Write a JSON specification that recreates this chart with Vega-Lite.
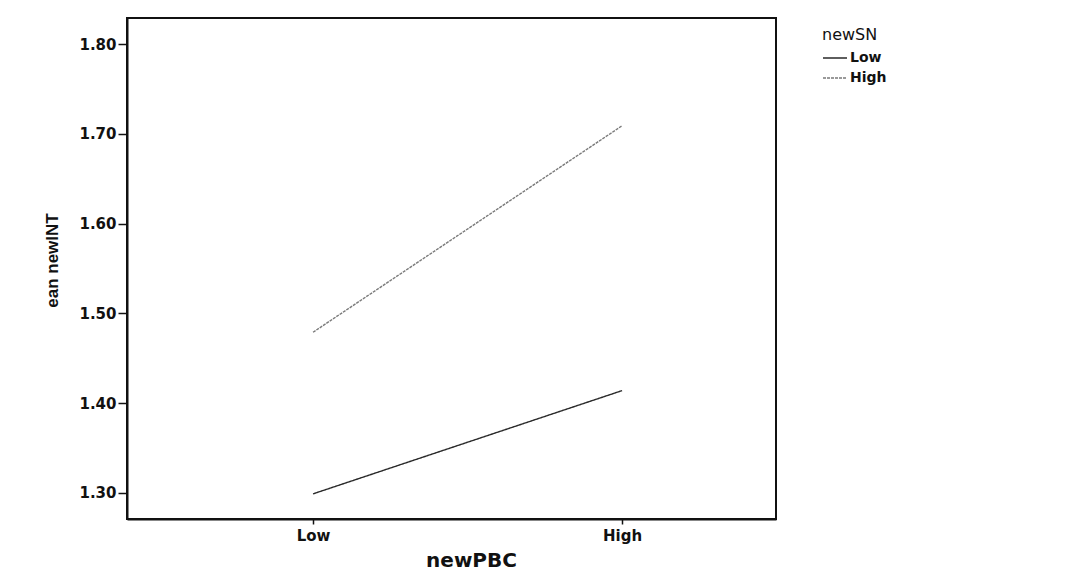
{
  "$schema": "https://vega.github.io/schema/vega-lite/v6.json",
  "autosize": {"type": "none"},
  "padding": {"left": 127, "top": 18, "right": 301, "bottom": 66},
  "width": 649,
  "height": 501,
  "background": "white",
  "config": {
    "view": {"stroke": "#111", "strokeWidth": 2},
    "font": "DejaVu Sans",
    "axis": {"grid": false, "domainColor": "#111", "domainWidth": 2, "tickColor": "#111", "tickWidth": 1.5, "labelColor": "#111", "titleColor": "#111", "labelFont": "DejaVu Sans", "titleFont": "DejaVu Sans"}
  },
  "data": {
    "values": [
      {"newPBC": 0, "newSN": "Low", "mean": 1.299},
      {"newPBC": 1, "newSN": "Low", "mean": 1.414},
      {"newPBC": 0, "newSN": "High", "mean": 1.479},
      {"newPBC": 1, "newSN": "High", "mean": 1.709}
    ]
  },
  "mark": {"type": "line", "clip": true},
  "encoding": {
    "x": {
      "field": "newPBC", "type": "quantitative",
      "scale": {"domain": [-0.602, 1.498], "nice": false, "zero": false},
      "axis": {"values": [0, 1], "labelExpr": "datum.value == 0 ? 'Low' : 'High'", "tickSize": 5, "labelFontSize": 15, "labelFontWeight": "bold", "labelPadding": 4,
        "title": "newPBC", "titleFontSize": 20, "titleFontWeight": "bold", "titleX": 344, "titleY": 41, "titleBaseline": "middle", "titleAnchor": "middle", "titleAlign": "center"}
    },
    "y": {
      "field": "mean", "type": "quantitative",
      "scale": {"domain": [1.271, 1.829], "nice": false, "zero": false},
      "axis": {"values": [1.3, 1.4, 1.5, 1.6, 1.7, 1.8], "format": ".2f", "tickSize": 9, "labelFontSize": 15, "labelFontWeight": "bold", "labelPadding": 2,
        "title": "ean newINT", "titleFont": "Liberation Sans", "titleFontSize": 17, "titleFontWeight": "bold", "titleX": -75, "titleY": 242, "titleAngle": -90, "titleAlign": "center", "titleBaseline": "middle"}
    },
    "color": {
      "field": "newSN", "type": "nominal",
      "scale": {"domain": ["Low", "High"], "range": ["#2a2a2a", "#7a7a7a"]},
      "legend": {"orient": "none", "legendX": 695, "legendY": 9, "title": "newSN", "titleFont": "DejaVu Sans", "titleFontSize": 16, "titleFontWeight": "normal", "titleColor": "#111", "titlePadding": 2,
        "labelFont": "DejaVu Sans", "labelFontSize": 14, "labelFontWeight": "bold", "labelColor": "#111", "symbolType": "stroke", "symbolSize": 576, "symbolStrokeWidth": 1.6, "labelOffset": 2, "rowPadding": -9, "symbolOffset": 0}
    },
    "strokeDash": {
      "field": "newSN", "type": "nominal",
      "scale": {"domain": ["Low", "High"], "range": [[1, 0], [3, 1]]},
      "legend": null
    },
    "strokeWidth": {"value": 1.4}
  }
}
